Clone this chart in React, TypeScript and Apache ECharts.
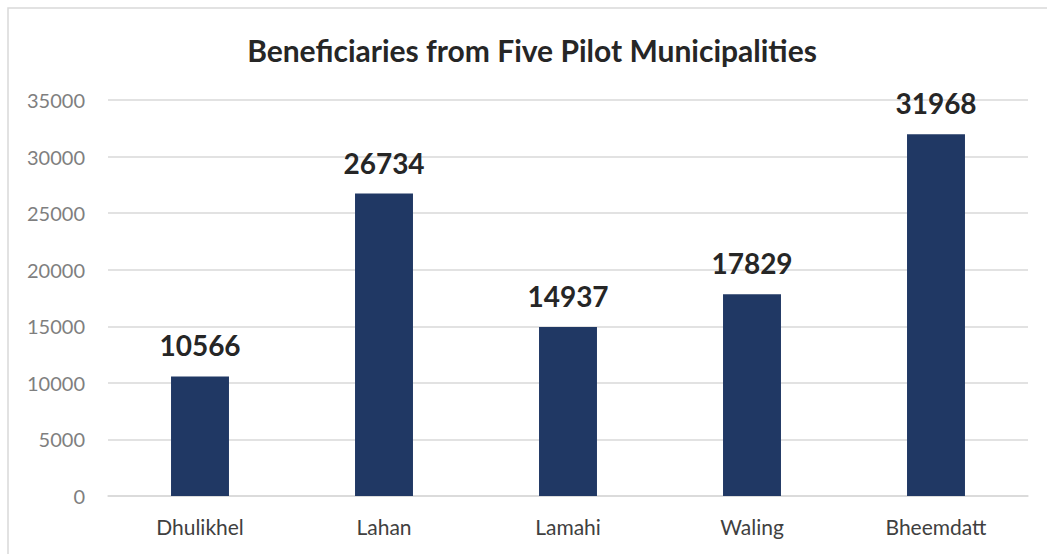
import React, { useEffect, useRef } from "react";
import * as echarts from "echarts";

const categories = ["Dhulikhel", "Lahan", "Lamahi", "Waling", "Bheemdatt"];
const beneficiaries = [10566, 26734, 14937, 17829, 31968];
const chartTitle = "Beneficiaries from Five Pilot Municipalities";

export default function App() {
  const ref = useRef<HTMLDivElement>(null);
  useEffect(() => {
    if (!ref.current) return;
    const chart = echarts.init(ref.current, undefined, { renderer: "svg" });
    const font = "Lato, 'Open Sans', sans-serif";
    chart.setOption({
      animation: false,
      backgroundColor: "#ffffff",
      textStyle: { fontFamily: font },
      title: {
        text: chartTitle,
        left: 527,
        textAlign: "center",
        top: 30,
        textStyle: { fontFamily: font, fontSize: 30, fontWeight: "bold", color: "#262626" },
      },
      graphic: [
        {
          type: "rect",
          shape: { x: 8, y: 8, width: 1100, height: 600 },
          style: { fill: "none", stroke: "#d9d9d9", lineWidth: 1.5 },
          silent: true,
        },
      ],
      grid: { left: 108, right: 19, top: 100, bottom: 58 },
      xAxis: {
        type: "category",
        data: categories,
        axisLine: { show: true, lineStyle: { color: "#d9d9d9", width: 1.5 } },
        axisTick: { show: false },
        axisLabel: { color: "#404040", fontSize: 21, margin: 20, fontFamily: font },
      },
      yAxis: {
        type: "value",
        min: 0,
        max: 35000,
        interval: 5000,
        axisLine: { show: false },
        axisTick: { show: false },
        splitLine: { lineStyle: { color: "#d9d9d9", width: 1.5 } },
        axisLabel: {
          color: "#7f7f7f",
          fontSize: 20,
          margin: 23,
          fontFamily: font,
          formatter: (v: number) => String(v),
        },
      },
      series: [
        {
          type: "bar",
          data: beneficiaries,
          barWidth: "31.5%",
          itemStyle: { color: "#203864" },
          label: {
            show: true,
            position: "top",
            distance: 17,
            fontSize: 28,
            fontWeight: "bold",
            color: "#262626",
            fontFamily: font,
          },
        },
      ],
    });
    return () => chart.dispose();
  }, []);
  return (
    <div
      ref={ref}
      style={{ position: "fixed", left: 0, top: 0, width: 1047, height: 554 }}
    />
  );
}
